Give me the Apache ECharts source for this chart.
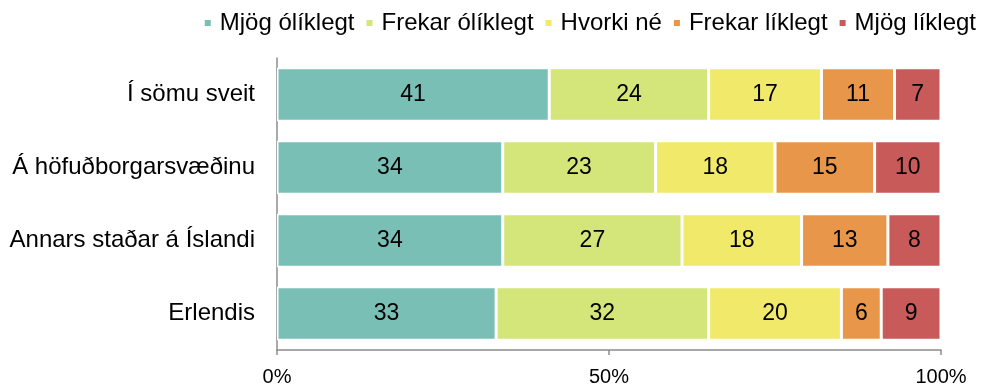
<!DOCTYPE html>
<html>
<head>
<meta charset="utf-8">
<script src="https://cdn.jsdelivr.net/npm/echarts@6/dist/echarts.min.js"></script>
<style>
  html, body { margin: 0; padding: 0; background: #ffffff; }
  #chart { width: 986px; height: 388px; }
</style>
</head>
<body>
<div id="chart"></div>
<script>
// Categories, top to bottom
const categories = ['Í sömu sveit', 'Á höfuðborgarsvæðinu', 'Annars staðar á Íslandi', 'Erlendis'];

// Response shares (%) per category
const mjogOliklegt   = [41, 34, 34, 33];
const frekarOliklegt = [24, 23, 27, 32];
const hvorkiNe       = [17, 18, 18, 20];
const frekarLiklegt  = [11, 15, 13, 6];
const mjogLiklegt    = [7, 10, 8, 9];

const seriesNames = ['Mjög ólíklegt', 'Frekar ólíklegt', 'Hvorki né', 'Frekar líklegt', 'Mjög líklegt'];
const seriesValues = [mjogOliklegt, frekarOliklegt, hvorkiNe, frekarLiklegt, mjogLiklegt];
const colors = ['#7abfb5', '#d4e57a', '#f1e96a', '#e8974a', '#c95a5a'];

const xTicks = [0, 50, 100];

const font = 'Liberation Sans, Arial, sans-serif';

const chart = echarts.init(document.getElementById('chart'), null, { renderer: 'canvas' });

chart.setOption({
  animation: false,
  color: colors,
  textStyle: { fontFamily: font },
  legend: {
    top: 6,
    right: 5,
    itemWidth: 8,
    itemHeight: 8,
    itemGap: 10,
    icon: 'rect',
    textStyle: { fontSize: 24, color: '#000', fontFamily: font, padding: [0, 0, 0, 3] },
    data: seriesNames
  },
  grid: { left: 277, right: 45, top: 58, bottom: 38, containLabel: false },
  xAxis: {
    type: 'value',
    min: 0,
    max: 100,
    interval: 50,
    axisLine: { show: true, lineStyle: { color: '#8c8c8c', width: 1.5 } },
    axisTick: { show: true, length: 5, lineStyle: { color: '#8c8c8c', width: 1.5 } },
    splitLine: { show: false },
    axisLabel: {
      fontSize: 20, color: '#000', fontFamily: font, margin: 17,
      formatter: v => xTicks.includes(v) ? v + '%' : ''
    }
  },
  yAxis: {
    type: 'category',
    inverse: true,
    data: categories,
    axisLine: { show: true, lineStyle: { color: '#8c8c8c', width: 1.5 } },
    axisTick: { show: false },
    axisLabel: { fontSize: 24, color: '#000', fontFamily: font, margin: 22, padding: [4, 0, 0, 0] }
  },
  series: seriesNames.map((name, i) => ({
    name,
    type: 'bar',
    stack: 'total',
    barCategoryGap: '27%',
    data: seriesValues[i],
    itemStyle: { color: colors[i], borderColor: '#ffffff', borderWidth: 1.5 },
    label: {
      show: true,
      position: 'inside',
      fontSize: 23,
      color: '#000',
      fontFamily: font
    }
  }))
});
</script>
</body>
</html>
